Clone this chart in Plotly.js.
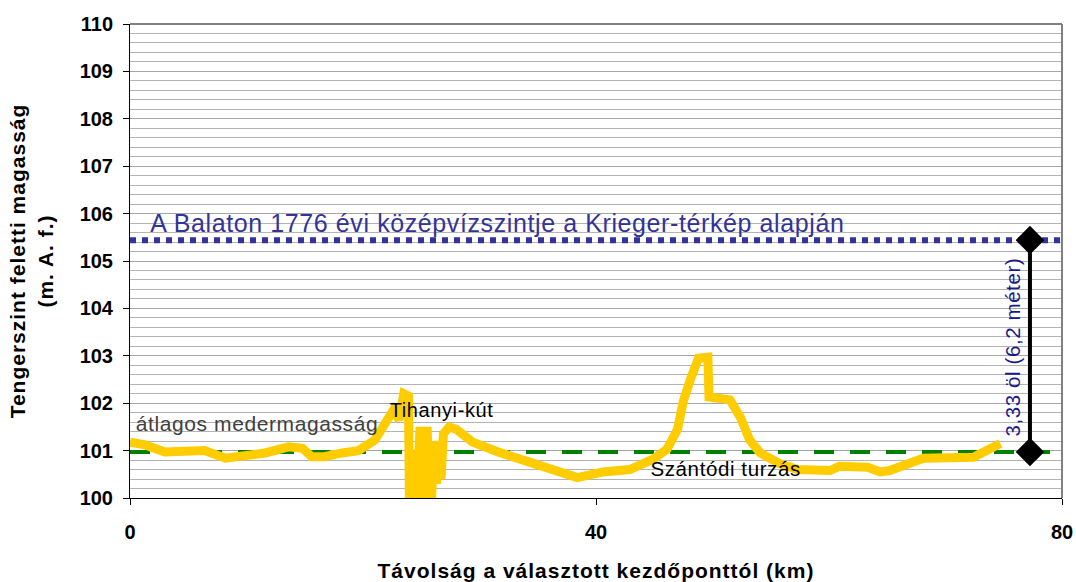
<!DOCTYPE html>
<html>
<head>
<meta charset="utf-8">
<script src="https://cdn.plot.ly/plotly-3.0.1.min.js"></script>
<style>html,body{margin:0;padding:0;background:#fff}#chart{width:1076px;height:582px}
#chart .annotation-text{letter-spacing:0.6px}
#chart .g-xtitle text{letter-spacing:1px}
#chart .g-ytitle text{letter-spacing:1px}
</style>
</head>
<body>
<div id="chart"></div>
<script>
// Distance (km) and bed elevation (m a.s.l.)
const distanceKm = [0, 1.3, 3.0, 5.3, 6.4, 8.2, 9.6, 11.6, 13.6, 14.8, 15.6, 16.7, 18.2, 19.6, 21.0, 21.8, 22.6, 23.1,
  23.5, 23.9, 24.0, 24.3, 24.5, 24.9, 25.1, 25.5, 25.8, 26.1, 26.3, 26.5, 26.7, 26.9, 27.4, 28.0, 29.4, 31.6, 33.5,
  34.5, 36.5, 38.4, 40.6, 42.9, 44.9, 46.1, 47.0, 47.5, 48.1, 48.8, 49.6, 49.65, 49.7, 51.5, 52.4, 53.2, 54.1, 55.8,
  57.3, 60.1, 60.9, 63.3, 64.4, 65.2, 68.1, 72.4, 73.6, 74.7];
const bedElevation = [101.18, 101.12, 100.97, 101.0, 101.0, 100.84, 100.87, 100.95, 101.08, 101.05, 100.87, 100.87, 100.95, 101.0, 101.22, 101.5, 101.85, 101.65,
  102.2, 102.15, 99.5, 101.0, 99.5, 101.5, 99.5, 101.5, 99.5, 101.2, 100.3, 101.2, 100.4, 101.35, 101.5, 101.45, 101.18, 100.97, 100.82,
  100.72, 100.55, 100.43, 100.55, 100.6, 100.82, 101.03, 101.45, 102.05, 102.5, 102.95, 102.97, 102.4, 102.13, 102.07, 101.7, 101.22, 100.95, 100.72,
  100.6, 100.58, 100.67, 100.65, 100.55, 100.58, 100.84, 100.86, 101.0, 101.15];

const meanBedLevel = 100.97;      // átlagos medermagasság
const lakeLevel1776 = 105.44;     // Balaton 1776 középvízszint
const markerDistance = 77.25;     // position of the difference bar
const xRange = [0, 80];
const yRange = [100, 110];
const xTicks = [0, 40, 80];

const labels = {
  lake: 'A Balaton 1776 évi középvízszintje a Krieger-térkép alapján',
  mean: 'átlagos medermagasság',
  tihany: 'Tihanyi-kút',
  szantod: 'Szántódi turzás',
  diff: '3,33 öl (6,2 méter)',
  xTitle: 'Távolság a választott kezdőponttól (km)',
  yTitle: 'Tengerszint feletti magasság<br>(m. A. f.)'
};

const font = 'Liberation Sans, Arial, sans-serif';

const traces = [
  {x: xRange, y: [lakeLevel1776, lakeLevel1776], mode: 'lines', line: {color: '#333399', width: 6, dash: 'dot'}, hoverinfo: 'skip'},
  {x: xRange, y: [meanBedLevel, meanBedLevel], mode: 'lines', line: {color: '#008000', width: 4, dash: '20px,16px'}, hoverinfo: 'skip'},
  {x: distanceKm, y: bedElevation, mode: 'lines', line: {color: '#FFCC00', width: 9}, hoverinfo: 'skip'},
  {x: [markerDistance, markerDistance], y: [meanBedLevel, lakeLevel1776], mode: 'lines+markers',
   line: {color: '#000000', width: 4}, marker: {symbol: 'diamond', size: 22, color: '#000000'}, cliponaxis: false, hoverinfo: 'skip'}
];

const layout = {
  width: 1076, height: 582,
  margin: {l: 130, r: 14, t: 24, b: 84},
  paper_bgcolor: '#ffffff', plot_bgcolor: '#ffffff',
  showlegend: false,
  font: {family: font, color: '#000'},
  xaxis: {
    range: xRange, tickvals: xTicks, ticktext: xTicks.map(String),
    showgrid: false, zeroline: false, showline: true, linecolor: '#000', linewidth: 1,
    ticks: 'outside', ticklen: 6, tickcolor: '#000', ticklabelstandoff: 10,
    tickfont: {family: font, size: 20, color: '#000', weight: 'bold'},
    title: {text: '<b>' + labels.xTitle + '</b>', font: {family: font, size: 21, color: '#000'}, standoff: 21}
  },
  yaxis: {
    range: yRange, dtick: 1, tick0: 100,
    showgrid: true, gridcolor: '#a6a6a6', gridwidth: 1,
    minor: {dtick: 0.2, showgrid: true, gridcolor: '#b4b4b4', gridwidth: 1, ticks: ''},
    zeroline: false, showline: true, linecolor: '#000', linewidth: 1,
    ticks: 'outside', ticklen: 6, tickcolor: '#000', ticklabelstandoff: 6,
    tickfont: {family: font, size: 20, color: '#000', weight: 'bold'},
    title: {text: '<b>' + labels.yTitle + '</b>', font: {family: font, size: 21, color: '#000'}, standoff: 20}
  },
  shapes: [
    {type: 'line', xref: 'paper', yref: 'paper', x0: 0, x1: 1, y0: 1, y1: 1, line: {color: '#808080', width: 2}},
    {type: 'line', xref: 'paper', yref: 'paper', x0: 1, x1: 1, y0: 0, y1: 1, line: {color: '#808080', width: 2}}
  ],
  annotations: [
    {x: 31.55, y: 105.8, xref: 'x', yref: 'y', text: labels.lake, showarrow: false, xanchor: 'center', yanchor: 'middle',
     font: {family: font, size: 25, color: '#333399'}},
    {x: 10.86, y: 101.58, xref: 'x', yref: 'y', text: labels.mean, showarrow: false, xanchor: 'center', yanchor: 'middle',
     font: {family: font, size: 21, color: '#404040'}},
    {x: 26.74, y: 101.85, xref: 'x', yref: 'y', text: labels.tihany, showarrow: false, xanchor: 'center', yanchor: 'middle',
     font: {family: font, size: 20, color: '#000'}},
    {x: 51.12, y: 100.62, xref: 'x', yref: 'y', text: labels.szantod, showarrow: false, xanchor: 'center', yanchor: 'middle',
     font: {family: font, size: 20.5, color: '#000'}},
    {x: 75.75, y: 103.2, xref: 'x', yref: 'y', text: labels.diff, showarrow: false, textangle: -90, xanchor: 'center', yanchor: 'middle',
     font: {family: font, size: 20.5, color: '#1a1a8c'}}
  ]
};

Plotly.newPlot('chart', traces, layout, {staticPlot: true, displayModeBar: false});
</script>
</body>
</html>
